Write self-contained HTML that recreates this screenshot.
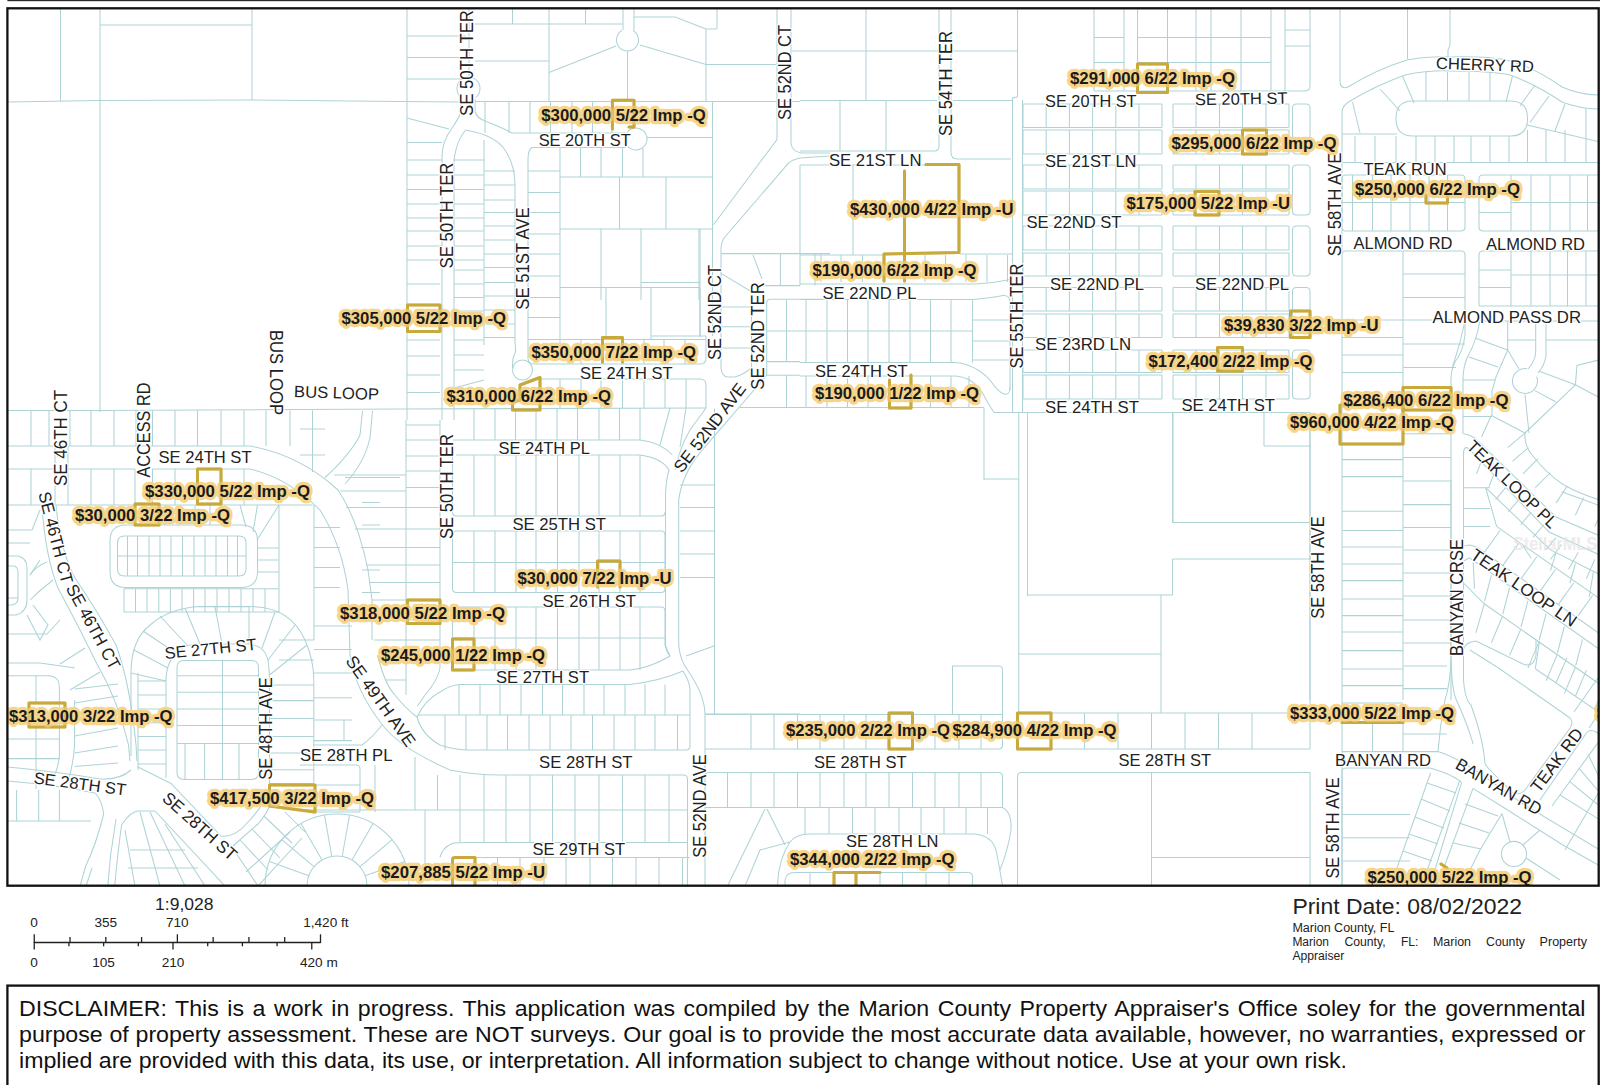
<!DOCTYPE html>
<html><head><meta charset="utf-8"><title>Map</title>
<style>
html,body{margin:0;padding:0;background:#fff;}
body{width:1600px;height:1085px;overflow:hidden;position:relative;font-family:"Liberation Sans",sans-serif;}
svg{position:absolute;left:0;top:0;}
svg{font-size:16.4px;}
svg text{font-family:"Liberation Sans",sans-serif;}
.pl{fill:none;stroke:#aed3d7;stroke-width:1.05;}
.gl{fill:none;stroke:#c8aa3c;stroke-width:3;stroke-linejoin:round;stroke-linecap:round;}
.st{fill:#222;}
.sth{fill:none;stroke:#fff;stroke-width:2.5;stroke-linejoin:round;}
.pr{font-size:16.3px;font-weight:bold;fill:#1a1a1a;}
.prh{font-size:16.3px;font-weight:bold;fill:none;stroke:#f6d48a;stroke-width:6.4;stroke-linejoin:round;stroke-linecap:round;}
.disc{position:absolute;left:18.8px;width:1515px;font-size:22.4px;line-height:27px;transform:scaleX(1.034);transform-origin:0 0;color:#111;white-space:nowrap;text-align:justify;text-align-last:justify;}
</style></head><body>
<svg width="1600" height="1085" viewBox="0 0 1600 1085">
<defs><clipPath id="mc"><rect x="8" y="9" width="1590" height="876"/></clipPath></defs>
<rect x="7.4" y="-2" width="1600" height="3.2" fill="#2a2a2a"/>
<g clip-path="url(#mc)">

<path class="pl" d="M60.5 8V101"/>
<path class="pl" d="M100 8V412"/>
<path class="pl" d="M100 25H252"/>
<path class="pl" d="M252 8V100"/>
<path class="pl" d="M8 102L100 100.5L252 100L400 101.5L461 102"/>
<path class="pl" d="M475 101.5H800"/>
<path class="pl" d="M407 8V420"/>
<path class="pl" d="M407 36H466M407 57.5H466M407 79H466"/>
<path class="pl" d="M407 118L449 129"/>
<path class="pl" d="M407 142.5H442M407 160H442M407 175H442M407 189.5H442M407 204H442M407 218H442M407 231H442M407 246H442M407 260H442"/>
<path class="pl" d="M469 8V77"/>
<path class="pl" d="M461.4 97.6A11.5 11.5 0 1 1 475.6 97.6"/>
<path class="pl" d="M475 24H623"/>
<path class="pl" d="M475 61H549"/>
<path class="pl" d="M512.5 8V24M585.5 8V24"/>
<path class="pl" d="M549 8V101.5"/>
<path class="pl" d="M623 8L623 30"/>
<path class="pl" d="M634 8L634 30"/>
<path class="pl" d="M633.0 30.5A11 11 0 1 1 622.0 30.5"/>
<path class="pl" d="M634 17L675 17L706 29L717 29"/>
<path class="pl" d="M717 8V29"/>
<path class="pl" d="M616 46L549 72.5"/>
<path class="pl" d="M640 45L706 64.5"/>
<path class="pl" d="M627.5 51V101.5"/>
<path class="pl" d="M706 29V101.5"/>
<path class="pl" d="M706 64.5H776"/>
<path class="pl" d="M461 99V112Q459 118 452 128Q442 142 442 156V420"/>
<path class="pl" d="M475 99V112Q477 118 485 121Q503 128 512 133H626"/>
<path class="pl" d="M465.5 130Q456 142 454 160V420"/>
<path class="pl" d="M465.5 130Q495 135 505 150Q515 165 515 185V345"/>
<path class="pl" d="M626 147.5H532Q528 150 528 160V345"/>
<path class="pl" d="M627.0 132.7A11 11 0 1 1 627.0 145.3"/>
<path class="pl" d="M485 101.5V133M509 101.5V133M530 101.5V133M550.5 101.5V133M572 101.5V133M592.5 101.5V133M612 101.5V133"/>
<path class="pl" d="M647 137.5H712.5"/>
<path class="pl" d="M712.5 101.5V270"/>
<path class="pl" d="M580.5 147.5V177M601 147.5V177M622.5 147.5V177M643 147.5V177"/>
<path class="pl" d="M560 177H712.5"/>
<path class="pl" d="M560 147.5V345"/>
<path class="pl" d="M619.5 177V229M666 177V229"/>
<path class="pl" d="M560 229H712.5"/>
<path class="pl" d="M601 229V300M641 229V300M699 229V300"/>
<path class="pl" d="M484 140V345"/>
<path class="pl" d="M454 160H484M454 175H484M454 189.5H484M454 204H484M454 218H484M454 231H484M454 246H484M454 260H484"/>
<path class="pl" d="M484 171H515M484 185H515M484 200H515M484 212.5H515M484 226H515M484 240H515M484 254H515M484 267.5H515"/>
<path class="pl" d="M528 171H560M528 192.5H560M528 212.5H560M528 234H560M528 254H560"/>
<path class="pl" d="M866 8V100.5"/>
<path class="pl" d="M792 51H1017.5"/>
<path class="pl" d="M800 100.5H937"/>
<path class="pl" d="M953 100.5H1012.5"/>
<path class="pl" d="M939 8V146Q939 151 934 151H800"/>
<path class="pl" d="M951 8V152Q951 159 957 159H1011"/>
<path class="pl" d="M1017.5 8V97"/>
<path class="pl" d="M1017.5 97L1012.5 98L1012.5 412"/>
<path class="pl" d="M1022.5 100V412"/>
<path class="pl" d="M840 100.5V151M886 100.5V151"/>
<path class="pl" d="M800 165H926"/>
<path class="pl" d="M853 165V255"/>
<path class="pl" d="M800 255H884"/>
<path class="pl" d="M1023.8 104H1161.2Q1162 104 1162 104.8V126.7Q1162 127.5 1161.2 127.5H1023.8Q1023 127.5 1023 126.7V104.8Q1023 104 1023.8 104Z"/>
<path class="pl" d="M1046.2 104V127.5M1069.4 104V127.5M1092.6 104V127.5M1115.8 104V127.5M1139 104V127.5"/>
<path class="pl" d="M1173.8 104H1288.2Q1289 104 1289 104.8V126.7Q1289 127.5 1288.2 127.5H1173.8Q1173 127.5 1173 126.7V104.8Q1173 104 1173.8 104Z"/>
<path class="pl" d="M1196 104V127.5M1219.5 104V127.5M1242.5 104V127.5M1266 104V127.5"/>
<path class="pl" d="M1023.8 130H1161.2Q1162 130 1162 130.8V153.2Q1162 154 1161.2 154H1023.8Q1023 154 1023 153.2V130.8Q1023 130 1023.8 130Z"/>
<path class="pl" d="M1046.2 130V154M1069.4 130V154M1092.6 130V154M1115.8 130V154M1139 130V154"/>
<path class="pl" d="M1173.8 130H1288.2Q1289 130 1289 130.8V153.2Q1289 154 1288.2 154H1173.8Q1173 154 1173 153.2V130.8Q1173 130 1173.8 130Z"/>
<path class="pl" d="M1196 130V154M1219.5 130V154M1242.5 130V154M1266 130V154"/>
<path class="pl" d="M1023.8 165H1161.2Q1162 165 1162 165.8V188.2Q1162 189 1161.2 189H1023.8Q1023 189 1023 188.2V165.8Q1023 165 1023.8 165Z"/>
<path class="pl" d="M1046.2 165V189M1069.4 165V189M1092.6 165V189M1115.8 165V189M1139 165V189"/>
<path class="pl" d="M1173.8 165H1288.2Q1289 165 1289 165.8V188.2Q1289 189 1288.2 189H1173.8Q1173 189 1173 188.2V165.8Q1173 165 1173.8 165Z"/>
<path class="pl" d="M1196 165V189M1219.5 165V189M1242.5 165V189M1266 165V189"/>
<path class="pl" d="M1023.8 191H1161.2Q1162 191 1162 191.8V214.2Q1162 215 1161.2 215H1023.8Q1023 215 1023 214.2V191.8Q1023 191 1023.8 191Z"/>
<path class="pl" d="M1046.2 191V215M1069.4 191V215M1092.6 191V215M1115.8 191V215M1139 191V215"/>
<path class="pl" d="M1173.8 191H1288.2Q1289 191 1289 191.8V214.2Q1289 215 1288.2 215H1173.8Q1173 215 1173 214.2V191.8Q1173 191 1173.8 191Z"/>
<path class="pl" d="M1196 191V215M1219.5 191V215M1242.5 191V215M1266 191V215"/>
<path class="pl" d="M1023.8 226H1161.2Q1162 226 1162 226.8V249.2Q1162 250 1161.2 250H1023.8Q1023 250 1023 249.2V226.8Q1023 226 1023.8 226Z"/>
<path class="pl" d="M1046.2 226V250M1069.4 226V250M1092.6 226V250M1115.8 226V250M1139 226V250"/>
<path class="pl" d="M1173.8 226H1288.2Q1289 226 1289 226.8V249.2Q1289 250 1288.2 250H1173.8Q1173 250 1173 249.2V226.8Q1173 226 1173.8 226Z"/>
<path class="pl" d="M1196 226V250M1219.5 226V250M1242.5 226V250M1266 226V250"/>
<path class="pl" d="M1023.8 253H1161.2Q1162 253 1162 253.8V275.2Q1162 276 1161.2 276H1023.8Q1023 276 1023 275.2V253.8Q1023 253 1023.8 253Z"/>
<path class="pl" d="M1046.2 253V276M1069.4 253V276M1092.6 253V276M1115.8 253V276M1139 253V276"/>
<path class="pl" d="M1173.8 253H1288.2Q1289 253 1289 253.8V275.2Q1289 276 1288.2 276H1173.8Q1173 276 1173 275.2V253.8Q1173 253 1173.8 253Z"/>
<path class="pl" d="M1196 253V276M1219.5 253V276M1242.5 253V276M1266 253V276"/>
<path class="pl" d="M1023.8 287.5H1161.2Q1162 287.5 1162 288.3V310.2Q1162 311 1161.2 311H1023.8Q1023 311 1023 310.2V288.3Q1023 287.5 1023.8 287.5Z"/>
<path class="pl" d="M1046.2 287.5V311M1069.4 287.5V311M1092.6 287.5V311M1115.8 287.5V311M1139 287.5V311"/>
<path class="pl" d="M1173.8 287.5H1288.2Q1289 287.5 1289 288.3V310.2Q1289 311 1288.2 311H1173.8Q1173 311 1173 310.2V288.3Q1173 287.5 1173.8 287.5Z"/>
<path class="pl" d="M1196 287.5V311M1219.5 287.5V311M1242.5 287.5V311M1266 287.5V311"/>
<path class="pl" d="M1023.8 314H1161.2Q1162 314 1162 314.8V336.7Q1162 337.5 1161.2 337.5H1023.8Q1023 337.5 1023 336.7V314.8Q1023 314 1023.8 314Z"/>
<path class="pl" d="M1046.2 314V337.5M1069.4 314V337.5M1092.6 314V337.5M1115.8 314V337.5M1139 314V337.5"/>
<path class="pl" d="M1173.8 314H1288.2Q1289 314 1289 314.8V336.7Q1289 337.5 1288.2 337.5H1173.8Q1173 337.5 1173 336.7V314.8Q1173 314 1173.8 314Z"/>
<path class="pl" d="M1196 314V337.5M1219.5 314V337.5M1242.5 314V337.5M1266 314V337.5"/>
<path class="pl" d="M1023.8 350H1161.2Q1162 350 1162 350.8V371.7Q1162 372.5 1161.2 372.5H1023.8Q1023 372.5 1023 371.7V350.8Q1023 350 1023.8 350Z"/>
<path class="pl" d="M1046.2 350V372.5M1069.4 350V372.5M1092.6 350V372.5M1115.8 350V372.5M1139 350V372.5"/>
<path class="pl" d="M1173.8 350H1288.2Q1289 350 1289 350.8V371.7Q1289 372.5 1288.2 372.5H1173.8Q1173 372.5 1173 371.7V350.8Q1173 350 1173.8 350Z"/>
<path class="pl" d="M1196 350V372.5M1219.5 350V372.5M1242.5 350V372.5M1266 350V372.5"/>
<path class="pl" d="M1023.8 375H1161.2Q1162 375 1162 375.8V398.2Q1162 399 1161.2 399H1023.8Q1023 399 1023 398.2V375.8Q1023 375 1023.8 375Z"/>
<path class="pl" d="M1046.2 375V399M1069.4 375V399M1092.6 375V399M1115.8 375V399M1139 375V399"/>
<path class="pl" d="M1173.8 375H1288.2Q1289 375 1289 375.8V398.2Q1289 399 1288.2 399H1173.8Q1173 399 1173 398.2V375.8Q1173 375 1173.8 375Z"/>
<path class="pl" d="M1196 375V399M1219.5 375V399M1242.5 375V399M1266 375V399"/>
<path class="pl" d="M1296.5 104H1306Q1310 104 1310 108V150Q1310 154 1306 154H1296.5Q1292.5 154 1292.5 150V108Q1292.5 104 1296.5 104Z"/>
<path class="pl" d="M1296.5 165H1306Q1310 165 1310 169V211Q1310 215 1306 215H1296.5Q1292.5 215 1292.5 211V169Q1292.5 165 1296.5 165Z"/>
<path class="pl" d="M1296.5 226H1306Q1310 226 1310 230V272Q1310 276 1306 276H1296.5Q1292.5 276 1292.5 272V230Q1292.5 226 1296.5 226Z"/>
<path class="pl" d="M1296.5 287.5H1306Q1310 287.5 1310 291.5V333.5Q1310 337.5 1306 337.5H1296.5Q1292.5 337.5 1292.5 333.5V291.5Q1292.5 287.5 1296.5 287.5Z"/>
<path class="pl" d="M1296.5 350H1306Q1310 350 1310 354V395Q1310 399 1306 399H1296.5Q1292.5 399 1292.5 395V354Q1292.5 350 1296.5 350Z"/>
<path class="pl" d="M1094 91H1304"/>
<path class="pl" d="M1094 8V91M1124 8V91M1137.5 8V91M1167.5 8V91M1196 8V91M1211 8V91M1241 8V91M1271 8V91"/>
<path class="pl" d="M1094 37.5H1124M1094 62.5H1124"/>
<path class="pl" d="M1137.5 37.5H1271M1137.5 62.5H1271"/>
<path class="pl" d="M1285 8V91M1310 8V86Q1310 91 1304 91"/>
<path class="pl" d="M1285 30H1310M1285 46H1310"/>
<path class="pl" d="M1340 8V80Q1340 90 1348 87Q1375 70 1407 60Q1430 56 1450 57Q1490 56 1510 61Q1535 68 1562 87Q1580 95 1600 95"/>
<path class="pl" d="M1342 420V112Q1342 106 1350 101Q1375 86 1405 75Q1430 70 1450 71Q1490 71 1510 75Q1535 84 1562 102Q1580 109 1600 109"/>
<path class="pl" d="M1407.5 8V59"/>
<path class="pl" d="M1450 8V45L1448 50V57"/>
<path class="pl" d="M1413 101H1510.5Q1527.5 101 1527.5 118V119Q1527.5 136 1510.5 136H1413Q1396 136 1396 119V118Q1396 101 1413 101Z"/>
<path class="pl" d="M1426 72V101M1447.5 72V101M1469 72V101M1490 72V101"/>
<path class="pl" d="M1402.5 76L1414 103"/>
<path class="pl" d="M1380 89L1400 111"/>
<path class="pl" d="M1512.5 76L1506 102"/>
<path class="pl" d="M1535 85L1520 106"/>
<path class="pl" d="M1549 96L1530 122.5"/>
<path class="pl" d="M1565 104L1555 131"/>
<path class="pl" d="M1586 108V162.5"/>
<path class="pl" d="M1352.5 102L1360 133"/>
<path class="pl" d="M1342 134L1397 134"/>
<path class="pl" d="M1527 125L1600 142"/>
<path class="pl" d="M1355 136V162.5M1375 136V162.5M1396 136V162.5M1416 136V162.5M1435 136V162.5M1454 136V162.5M1471 136V162.5M1490 136V162.5M1509 136V162.5"/>
<path class="pl" d="M1527.5 130V162.5M1546 130V162.5M1565 130V162.5"/>
<path class="pl" d="M1342 162.5H1600"/>
<path class="pl" d="M1346 175H1461Q1465 175 1465 179V227Q1465 231 1461 231H1346Q1342 231 1342 227V179Q1342 175 1346 175Z"/>
<path class="pl" d="M1342 202.5H1465"/>
<path class="pl" d="M1352.5 175V231M1372.5 175V231M1391 175V231M1410 175V231M1429 175V231M1447.5 175V231"/>
<path class="pl" d="M1600 175H1483Q1479 175 1479 179V227Q1479 231 1483 231H1600"/>
<path class="pl" d="M1511 202.5H1600"/>
<path class="pl" d="M1479 212.5H1511"/>
<path class="pl" d="M1511 175V231M1531 175V231M1550 175V231M1570 175V231M1587.5 175V231"/>
<path class="pl" d="M960 254H1012.5"/>
<path class="pl" d="M821 255V282M841 255V282M862.5 255V282M925 255V282M945.5 255V282M966 255V282M987 255V282M1007.5 255V282"/>
<path class="pl" d="M800 284H975Q995 283 1012.5 279"/>
<path class="pl" d="M800 299.5H972.5Q990 298 1003 295.5Q1010 295 1010 302V390"/>
<path class="pl" d="M800 331H972.5"/>
<path class="pl" d="M806 299.5V362.5M827 299.5V362.5M847.5 299.5V362.5M868 299.5V362.5M889 299.5V362.5M910 299.5V362.5M930.5 299.5V362.5M951 299.5V362.5M972.5 299.5V362.5"/>
<path class="pl" d="M972.5 320H1010M972.5 341H1010M972.5 360H1010"/>
<path class="pl" d="M800 362.5H955Q975 364 990 380Q998 392 1004 394Q1010 395 1010 388"/>
<path class="pl" d="M800 376H955Q972 377 982 392Q988 404 994 412.5H1310"/>
<path class="pl" d="M806 376V407.5M827 376V407.5M847.5 376V407.5M868 376V407.5M930.5 376V407.5M951 376V407.5M969 376V407.5"/>
<path class="pl" d="M800 407.5H984"/>
<path class="pl" d="M984 407.5V480"/>
<path class="pl" d="M984 479H1018.75"/>
<path class="pl" d="M1173 412.5V522.5"/>
<path class="pl" d="M1310 412.5V700"/>
<path class="pl" d="M1342 420V886"/>
<path class="pl" d="M1264 412.5V446"/>
<path class="pl" d="M1264 446H1310"/>
<path class="pl" d="M1342 255Q1342 251 1346 251H1461Q1465 251 1465 255V335Q1463 352 1455 362Q1451 370 1451 380V700"/>
<path class="pl" d="M1403 251V700"/>
<path class="pl" d="M1342 320H1403M1342 337.5H1403M1342 355H1403M1342 372.5H1403M1342 459.6H1403M1342 476.6H1403"/>
<path class="pl" d="M1403 274H1465M1403 297.5H1465M1403 320H1465M1403 344H1465"/>
<path class="pl" d="M1403 367.5H1456"/>
<path class="pl" d="M1403 433.8H1451M1403 457.4H1451M1403 481H1451M1403 504.6H1451"/>
<path class="pl" d="M1600 251H1483Q1479 251 1479 255V306"/>
<path class="pl" d="M1479 270H1511M1479 287.5H1511"/>
<path class="pl" d="M1511 251V306M1531 251V306M1550 251V306M1567.5 251V306M1586 251V306"/>
<path class="pl" d="M1511 275H1600"/>
<path class="pl" d="M1479 306H1600"/>
<path class="pl" d="M1465 321Q1460 345 1452.5 367"/>
<path class="pl" d="M1479.6 321H1600"/>
<path class="pl" d="M1479.6 322Q1477 340 1467 358Q1463 368 1463 380V434"/>
<path class="pl" d="M1507.7 321V350"/>
<path class="pl" d="M1507.7 340H1535.7"/>
<path class="pl" d="M1546 340H1600"/>
<path class="pl" d="M1535.7 321V352Q1535 362 1528 369"/>
<path class="pl" d="M1546 321V355Q1545 365 1538 373"/>
<path class="pl" d="M1536.7 376.7A12.5 12.5 0 1 1 1527.2 368.7"/>
<path class="pl" d="M1475 338L1507.7 350"/>
<path class="pl" d="M1469 357L1498 367"/>
<path class="pl" d="M1507.7 350L1496 377L1492 391L1492 414L1481.6 437"/>
<path class="pl" d="M1463 380H1495"/>
<path class="pl" d="M1463 416.5H1492"/>
<path class="pl" d="M1507.7 350L1519 369"/>
<path class="pl" d="M1525 394.5L1529 433"/>
<path class="pl" d="M1492 415.7L1525 433"/>
<path class="pl" d="M1538.7 371L1575.4 384.8L1577 365.4L1600 359.6"/>
<path class="pl" d="M1575.4 384.8L1525 433"/>
<path class="pl" d="M1575.4 384.8L1600 398"/>
<path class="pl" d="M1534.8 390.6L1556 402"/>
<path class="pl" d="M1525 433Q1524 445 1532 455Q1548 475 1564 485Q1580 494 1600 500"/>
<path class="pl" d="M407 284H440M407 304.5H440M407 332H440M407 340H440M407 356H440M407 375H440M407 392.5H440"/>
<path class="pl" d="M406 425H440M406 440H440M406 456H440M406 471H440M406 487.5H440M406 507.5H440M406 529H440M406 547.5H440M406 565H440M406 582.5H440M406 600H440M406 620H440M406 640H440M406 660H440"/>
<path class="pl" d="M406 420V695"/>
<path class="pl" d="M334 475H406"/>
<path class="pl" d="M340 491H406"/>
<path class="pl" d="M346 507.5H406"/>
<path class="pl" d="M355 529H406"/>
<path class="pl" d="M361 547.5H406"/>
<path class="pl" d="M366 565H406"/>
<path class="pl" d="M369 582.5H406"/>
<path class="pl" d="M372 600H406"/>
<path class="pl" d="M372 620H406"/>
<path class="pl" d="M374 640H406"/>
<path class="pl" d="M378 660H406"/>
<path class="pl" d="M386 680H406"/>
<path class="pl" d="M454 270H484M454 284H484M454 297.5H484M454 311H484M454 325H484M454 340H484M454 355H484M454 370H484"/>
<path class="pl" d="M454 388L484 380"/>
<path class="pl" d="M484 282.5H515M484 296H515M484 310H515M484 324H515M484 337.5H515"/>
<path class="pl" d="M515.5 345V352Q512 358 512.5 368"/>
<path class="pl" d="M512.5 370a10 10 0 1 0 20 0a10 10 0 1 0 -20 0"/>
<path class="pl" d="M528 345V358Q528 364 534 364H700Q706 364 706 358V336"/>
<path class="pl" d="M528 339.5H706"/>
<path class="pl" d="M581 339.5V364M602.5 339.5V364M622.5 339.5V364M644 339.5V364M664 339.5V364M685 339.5V364"/>
<path class="pl" d="M532 379H700Q706 379 706 385V408"/>
<path class="pl" d="M540 379V408M560 379V408M581 379V408M601 379V408M622.5 379V408M644 379V408M665 379V408M686 379V408"/>
<path class="pl" d="M528 276H560M528 297.5H560M528 317.5H560"/>
<path class="pl" d="M560 287.5H700"/>
<path class="pl" d="M641 282.5H700"/>
<path class="pl" d="M700 229V336"/>
<path class="pl" d="M606 287.5V339.5M651 287.5V339.5"/>
<path class="pl" d="M651 336H706"/>
<path class="pl" d="M8 410.5L100 410.5L400 409L706 408"/>
<path class="pl" d="M474 408V440M495 408V440M515.5 408V440M536 408V440M557 408V440M577.5 408V440M599 408V440M619.5 408V440M640 408V440"/>
<path class="pl" d="M670 408L660 445"/>
<path class="pl" d="M686 408L680 447"/>
<path class="pl" d="M453 440H640Q660 442 672.5 455"/>
<path class="pl" d="M456 455H640Q662 458 669 470Q666 480 665.5 495V645Q666 652 670 656"/>
<path class="pl" d="M474 455V516M495 455V516M516 455V516M536 455V516M557.5 455V516M579 455V516M599 455V516M620 455V516M640 455V516"/>
<path class="pl" d="M712.5 177V336"/>
<path class="pl" d="M777 8V139.5L713.5 224.7"/>
<path class="pl" d="M830 156L800 158Q790 160 786.5 165.4L724 238Q721 243 721 250V368Q722 377 728 377H735Q745 374 751.5 367.7V291.7"/>
<path class="pl" d="M791 8V143Q792 152 801.7 153H830"/>
<path class="pl" d="M721 253.6H830"/>
<path class="pl" d="M800 165V253.6"/>
<path class="pl" d="M753 255L762 279"/>
<path class="pl" d="M780.4 253.6V285.6M800 253.6V285.6M815 253.6V285.6"/>
<path class="pl" d="M754.5 285.6H800"/>
<path class="pl" d="M830 299.3H770.7Q766.7 299.3 766.7 303V375.3"/>
<path class="pl" d="M766.7 331H800"/>
<path class="pl" d="M766.7 361.6H800"/>
<path class="pl" d="M786.5 299.3V361.6"/>
<path class="pl" d="M706 408L690 430Q680 447 675 470"/>
<path class="pl" d="M800 375.3H766.7L700 452.6Q682 475 678.7 500V645Q680 660 687.5 670Q705 695 705 715V886"/>
<path class="pl" d="M786.5 375.3V407.5"/>
<path class="pl" d="M740 407.5H800"/>
<path class="pl" d="M721 273.4L751.5 291.7"/>
<path class="pl" d="M721 307H751.5M721 326.7H751.5M721 348H751.5"/>
<path class="pl" d="M700 287.5V337"/>
<path class="pl" d="M680 485H714M680 507.5H714M680 531H714M680 554H714M680 577.5H714"/>
<path class="pl" d="M714.5 408.7V714"/>
<path class="pl" d="M686 656L714 646"/>
<path class="pl" d="M705 714H800"/>
<path class="pl" d="M31 410.5V446M49 410.5V446M70 410.5V446M91 410.5V446M114 410.5V446M136 410.5V446M152.5 410.5V446M175 410.5V446M197.5 410.5V446M221 410.5V446M244 410.5V446M266 410.5V446M290 410.5V446M312.5 410.5V446"/>
<path class="pl" d="M8 446H250"/>
<path class="pl" d="M250 446Q300 455 338 490Q358 520 368 570L372 600V640"/>
<path class="pl" d="M8 469H55"/>
<path class="pl" d="M68 469H135"/>
<path class="pl" d="M152.5 469H250"/>
<path class="pl" d="M250 469Q288 478 320 510Q342 545 348 590L350 655"/>
<path class="pl" d="M325 477.5Q350 455 360 435L362.5 411"/>
<path class="pl" d="M345 484Q365 462 370 437.5L372.5 411"/>
<path class="pl" d="M31 469V505M91 469V505M114 469V505M135 469V505M152.5 469V505M175 469V505M197.5 469V505M221 469V505M244 469V505"/>
<path class="pl" d="M55 446V505M68 446V505"/>
<path class="pl" d="M8 505H312.5"/>
<path class="pl" d="M126 525H241.5Q257.5 525 257.5 541V571.5Q257.5 587.5 241.5 587.5H126Q110 587.5 110 571.5V541Q110 525 126 525Z"/>
<path class="pl" d="M124.5 536H239Q246 536 246 543V569Q246 576 239 576H124.5Q117.5 576 117.5 569V543Q117.5 536 124.5 536Z"/>
<path class="pl" d="M117.5 556H246"/>
<path class="pl" d="M127.5 536V576M137.5 536V576M149 536V576M160 536V576M171 536V576M182.5 536V576M194 536V576M205 536V576M216 536V576M227.5 536V576M237.5 536V576"/>
<path class="pl" d="M165 505V525M180 505V525M195 505V525M210 505V525M225 505V525"/>
<path class="pl" d="M159 505L150 525"/>
<path class="pl" d="M240 505L246 527"/>
<path class="pl" d="M257.5 505L253 532"/>
<path class="pl" d="M279 505L257 540"/>
<path class="pl" d="M279 505V612"/>
<path class="pl" d="M314 505V640"/>
<path class="pl" d="M257.5 548H279M257.5 560H279M257.5 572H279"/>
<path class="pl" d="M314 527.5H340M314 547.5H340M314 567.5H340M314 587.5H340"/>
<path class="pl" d="M300 429H325M300 455H325"/>
<path class="pl" d="M345 477.5L400 477.5"/>
<path class="pl" d="M362 502.5H380M362 525H380M362 547.5H380M362 570H380M362 592.5H380"/>
<path class="pl" d="M312.5 410.5V472"/>
<path class="pl" d="M124 588.7H279"/>
<path class="pl" d="M124 612H279"/>
<path class="pl" d="M124 588.7V612M135.5 588.7V612M147 588.7V612M158.8 588.7V612M170.4 588.7V612M182 588.7V612M193.6 588.7V612M205 588.7V612M217 588.7V612M229 588.7V612M241 588.7V612M253 588.7V612M265 588.7V612"/>
<path class="pl" d="M452.5 455V512Q452.5 516 456.5 516H661Q665 516 665 512"/>
<path class="pl" d="M456.5 531H661Q665 531 665 535V588.5Q665 592.5 661 592.5H456.5Q452.5 592.5 452.5 588.5V535Q452.5 531 456.5 531Z"/>
<path class="pl" d="M452.5 562.5H665"/>
<path class="pl" d="M474 531V592.5M495 531V592.5M516 531V592.5M536 531V592.5M557.5 531V592.5M579 531V592.5M599 531V592.5M620 531V592.5M640 531V592.5"/>
<path class="pl" d="M452.5 611Q452.5 607 456.5 607H661Q665 607 665 611V645Q668 652 670 656Q650 668 630 670H452.5Z"/>
<path class="pl" d="M452.5 638H665"/>
<path class="pl" d="M474 607V670M495 607V670M516 607V670M536 607V670M557.5 607V670M579 607V670M599 607V670M620 607V670M640 607V670"/>
<path class="pl" d="M440 420V668"/>
<path class="pl" d="M440 668Q438 680 425 695L417.5 706"/>
<path class="pl" d="M417 717Q425 700 440 692Q450 685 460 684.5H630Q660 681 683 671"/>
<path class="pl" d="M690 746V690Q690 682 683 671"/>
<path class="pl" d="M417 717Q422 735 440 745Q455 750 470 750H686Q690 750 690 746"/>
<path class="pl" d="M418 715H690"/>
<path class="pl" d="M459 684.5V715M480 684.5V715M500 684.5V715M521 684.5V715M542.5 684.5V715M562.5 684.5V715M584 684.5V715M604 684.5V715M625 684.5V715M645 684.5V715M665 684.5V715"/>
<path class="pl" d="M445 715V750M466 715V750M487 715V750M507.5 715V750M529 715V750M550 715V750M571 715V750M592.5 715V750M614 715V750M635 715V750M655 715V750M677.5 715V750"/>
<path class="pl" d="M350 655Q355 690 382.5 725Q400 748 450 770Q475 775 500 775H683.5Q687.5 775 687.5 779V886"/>
<path class="pl" d="M377.5 655Q385 685 395 695Q405 708 417 717"/>
<path class="pl" d="M437.5 775V810M460 775V810M484 775V810M506 775V810M530 775V810M552.5 775V810M575 775V810M599 775V810M622.5 775V810M645 775V810M669 775V810"/>
<path class="pl" d="M415 757V810"/>
<path class="pl" d="M300 810H687.5"/>
<path class="pl" d="M440 857.5Q442 848 452 843.5Q456 842.5 470 842.5H687.5"/>
<path class="pl" d="M460 810V842.5M484 810V842.5M506 810V842.5M530 810V842.5M552.5 810V842.5M575 810V842.5M599 810V842.5M622.5 810V842.5M645 810V842.5M669 810V842.5"/>
<path class="pl" d="M452.5 857.5H690"/>
<path class="pl" d="M452.5 857.5V886M475 857.5V886M497.5 857.5V886M520 857.5V886M544 857.5V886M566 857.5V886M590 857.5V886M612.5 857.5V886M636 857.5V886M659 857.5V886M682.5 857.5V886"/>
<path class="pl" d="M382 725Q372 738 362 745H313.8"/>
<path class="pl" d="M300 765H356Q360 765 360 769V812"/>
<path class="pl" d="M375 765V812"/>
<path class="pl" d="M269.5 785H360"/>
<path class="pl" d="M307 886A30 30 0 0 1 367 886"/>
<path class="pl" d="M265 886A72 72 0 0 1 409 886"/>
<path class="pl" d="M308.8 875.7L269.3 861.4"/>
<path class="pl" d="M314.0 866.7L281.8 839.7"/>
<path class="pl" d="M322.0 860.0L301.0 823.6"/>
<path class="pl" d="M331.8 856.5L324.5 815.1"/>
<path class="pl" d="M342.2 856.5L349.5 815.1"/>
<path class="pl" d="M352.0 860.0L373.0 823.6"/>
<path class="pl" d="M360.0 866.7L392.2 839.7"/>
<path class="pl" d="M365.2 875.7L404.7 861.4"/>
<path class="pl" d="M425 810V870"/>
<path class="pl" d="M705 714.5H1002.5"/>
<path class="pl" d="M705 749H998.5Q1002.5 749 1002.5 745V670Q1002.5 666 998.5 666H952.5V714.5"/>
<path class="pl" d="M751 714.5V749M774 714.5V749M797.5 714.5V749M820 714.5V749M844 714.5V749M866 714.5V749M935 714.5V749M959 714.5V749M981 714.5V749"/>
<path class="pl" d="M705 776.5Q705 772.5 709 772.5H998.5Q1002.5 772.5 1002.5 776.5V807.5"/>
<path class="pl" d="M727.5 772.5V807.5M751 772.5V807.5M774 772.5V807.5M797.5 772.5V807.5M820 772.5V807.5M844 772.5V807.5M866 772.5V807.5M889 772.5V807.5M912.5 772.5V807.5M935 772.5V807.5M959 772.5V807.5M981 772.5V807.5"/>
<path class="pl" d="M705 807.5H1002.5"/>
<path class="pl" d="M805 807.5V834M829 807.5V834M852.5 807.5V834M875 807.5V834M899 807.5V834M921 807.5V834M944 807.5V834M966 807.5V834M987.5 807.5V834"/>
<path class="pl" d="M777.5 886Q778 860 790 842Q796 834 810 834H975Q992 836 996 850Q1000 870 1002.5 886"/>
<path class="pl" d="M1002.5 807.5Q1012 812 1011 830Q1008 850 1000 870"/>
<path class="pl" d="M785 886V880Q786 872.5 795 872.5H968Q972.5 872.5 972.5 877V886"/>
<path class="pl" d="M810 872.5V886M880 872.5V886M902.5 872.5V886M926 872.5V886M949 872.5V886"/>
<path class="pl" d="M765 809L727.5 886"/>
<path class="pl" d="M767 809L785 845"/>
<path class="pl" d="M745 886L760 850L790 842"/>
<path class="pl" d="M1017.5 886V776.5Q1017.5 772.5 1021.5 772.5H1310V886"/>
<path class="pl" d="M1151.5 772.5V886"/>
<path class="pl" d="M1151.5 857.5H1310"/>
<path class="pl" d="M1018.75 412.5V713"/>
<path class="pl" d="M1027.5 412.5V596"/>
<path class="pl" d="M1018.75 654H1161"/>
<path class="pl" d="M1028 595H1172.5"/>
<path class="pl" d="M1172.5 412.5V522.5"/>
<path class="pl" d="M1172.5 522.5H1310"/>
<path class="pl" d="M1172.5 559H1310"/>
<path class="pl" d="M1172.5 559V595"/>
<path class="pl" d="M1161 595V713"/>
<path class="pl" d="M1017.5 713H1310"/>
<path class="pl" d="M1017.5 749H1310"/>
<path class="pl" d="M1051 713V749M1084.5 713V749M1118 713V749M1151.5 713V749M1185 713V749M1218.5 713V749M1252 713V749"/>
<path class="pl" d="M1310 412.5V749"/>
<path class="pl" d="M1342 511.3H1403M1342 530.4H1403M1342 547H1403M1342 564H1403M1342 580.6H1403M1342 599H1403M1342 615.6H1403M1342 632H1403M1342 650.6H1403M1342 669H1403M1342 685.6H1403M1342 703H1403M1342 722.5H1403"/>
<path class="pl" d="M1403 527.5H1451M1403 550H1451M1403 573H1451M1403 596H1451M1403 620H1451M1403 643H1451"/>
<path class="pl" d="M1403 666H1447M1403 688.6H1447M1403 711H1447M1403 734H1447"/>
<path class="pl" d="M1451 480V660Q1450 685 1445 700Q1440 725 1438 751"/>
<path class="pl" d="M1372.5 722.5V751M1403 722.5V751"/>
<path class="pl" d="M1342 751.6H1438Q1456 757 1485 777L1523 804L1600 850"/>
<path class="pl" d="M1342 886V772Q1342 768 1346 768H1430Q1454 775 1461.6 782.6"/>
<path class="pl" d="M1473 788.4L1504 807.7L1562 844.5L1600 866"/>
<path class="pl" d="M1463.5 454V546"/>
<path class="pl" d="M1463.5 561V680Q1465 700 1471 705Q1483 738 1484.8 761"/>
<path class="pl" d="M1451 660Q1452 690 1456 699Q1469 728 1473 744"/>
<path class="pl" d="M1342 814.5H1410M1342 837.7H1410M1342 861H1410"/>
<path class="pl" d="M1430.6 773L1397.7 866L1390 886"/>
<path class="pl" d="M1459.7 780.6L1428.7 866L1421 886"/>
<path class="pl" d="M1427 783L1456 793"/>
<path class="pl" d="M1421 799L1450 811"/>
<path class="pl" d="M1415 817L1444 828"/>
<path class="pl" d="M1409 834L1438 844"/>
<path class="pl" d="M1403 851L1432 861"/>
<path class="pl" d="M1461.6 782.6L1444 840L1430 886"/>
<path class="pl" d="M1473 788.4L1446 862L1437 886"/>
<path class="pl" d="M1465 804L1498 816"/>
<path class="pl" d="M1459 823L1489 833"/>
<path class="pl" d="M1453 843L1481 849"/>
<path class="pl" d="M1501.4 854a12.6 12.6 0 1 0 25.2 0a12.6 12.6 0 1 0 -25.2 0"/>
<path class="pl" d="M1502 813.5L1510 842"/>
<path class="pl" d="M1502 813.5L1480 850L1462 886"/>
<path class="pl" d="M1523 845L1540 830"/>
<path class="pl" d="M1526 858L1560 880"/>
<path class="pl" d="M1463.5 434Q1468 434 1474.8 438L1556 517L1600 536"/>
<path class="pl" d="M1463.5 454Q1463.5 446 1468 448L1549 532L1600 555"/>
<path class="pl" d="M1525.7 432.4L1507.7 447.6"/>
<path class="pl" d="M1528.4 447.6L1512.4 461.4"/>
<path class="pl" d="M1538.1 458.7L1522.9 473.9"/>
<path class="pl" d="M1550.5 472.5L1535.3 487.7"/>
<path class="pl" d="M1567.1 486.3L1556.1 502.9"/>
<path class="pl" d="M1561.6 491.8L1600.0 505.7"/>
<path class="pl" d="M1583.7 497.4L1575.4 515.3"/>
<path class="pl" d="M1600.0 515.3L1594.7 526.4"/>
<path class="pl" d="M1463.5 487.7H1490M1463.5 508.4H1490M1463.5 526.4H1490"/>
<path class="pl" d="M1485.6 487.7L1496.6 526.4"/>
<path class="pl" d="M1463.5 546L1470 545L1476.9 547.3L1579.1 619.2L1600 634"/>
<path class="pl" d="M1463.5 561L1469.5 557.9L1571.7 629.8L1600 649.7"/>
<path class="pl" d="M1496.6 526.4L1600.0 599.1"/>
<path class="pl" d="M1484.2 552.6L1500.0 530.5"/>
<path class="pl" d="M1502.7 565.6L1518.5 543.5"/>
<path class="pl" d="M1521.2 578.6L1537.0 556.5"/>
<path class="pl" d="M1539.8 591.6L1555.5 569.5"/>
<path class="pl" d="M1558.3 604.6L1574.0 582.5"/>
<path class="pl" d="M1576.8 617.6L1592.5 595.5"/>
<path class="pl" d="M1485.6 487.7L1550.5 549.9L1600.0 574.7"/>
<path class="pl" d="M1481.4 461.4L1476.5 473.9"/>
<path class="pl" d="M1493.9 474.2L1488.9 486.6"/>
<path class="pl" d="M1506.3 486.9L1495.8 499.3"/>
<path class="pl" d="M1518.8 499.6L1508.3 512.0"/>
<path class="pl" d="M1531.2 512.3L1520.7 524.7"/>
<path class="pl" d="M1543.6 525.0L1533.1 537.4"/>
<path class="pl" d="M1556.1 537.7L1545.6 550.1"/>
<path class="pl" d="M1561.6 544.3L1550.5 559.5"/>
<path class="pl" d="M1578.2 552.6L1568.5 569.2"/>
<path class="pl" d="M1594.7 559.5L1586.4 578.9"/>
<path class="pl" d="M1531.2 558.2L1522.9 545.7"/>
<path class="pl" d="M1550.5 570.6L1556.1 552.6"/>
<path class="pl" d="M1569.9 583.0L1575.4 563.7"/>
<path class="pl" d="M1589.2 596.8L1593.4 572.0"/>
<path class="pl" d="M1463.5 583.0L1484.2 603.8L1600.0 684.4"/>
<path class="pl" d="M1473.2 562.3L1474.5 588.6"/>
<path class="pl" d="M1491.4 575.2L1484.5 601.4"/>
<path class="pl" d="M1509.6 588.0L1502.7 614.3"/>
<path class="pl" d="M1527.9 600.9L1521.0 627.1"/>
<path class="pl" d="M1546.1 613.7L1539.2 640.0"/>
<path class="pl" d="M1564.3 626.5L1557.4 652.8"/>
<path class="pl" d="M1582.6 639.4L1575.7 665.6"/>
<path class="pl" d="M1484.2 603.8L1475.9 632.8"/>
<path class="pl" d="M1502.4 616.5L1491.4 642.7"/>
<path class="pl" d="M1520.7 629.2L1509.6 655.4"/>
<path class="pl" d="M1538.9 641.9L1527.9 668.1"/>
<path class="pl" d="M1557.2 654.6L1546.1 680.8"/>
<path class="pl" d="M1575.4 667.3L1564.3 693.6"/>
<path class="pl" d="M1463.5 650Q1465 642 1476 641L1523 664Q1534 668 1536 655L1536 640"/>
<path class="pl" d="M1535.3 668.7L1600.0 712.9"/>
<path class="pl" d="M1535.3 668.7L1539.5 641.1"/>
<path class="pl" d="M1556.1 682.5L1567.1 657.6"/>
<path class="pl" d="M1575.4 696.3L1586.4 670.1"/>
<path class="pl" d="M1594.7 708.8L1600.0 696.3"/>
<path class="pl" d="M1470 650Q1500 668 1530 690L1570 718Q1574 722 1570 728L1525 790Q1520 796 1512 792L1490 770Q1484 764 1484.8 761"/>
<path class="pl" d="M1574 712L1600 675"/>
<path class="pl" d="M1589 728L1600 712"/>
<path class="pl" d="M1540 800L1585 735Q1589 728 1596 732L1600 735"/>
<path class="pl" d="M1552 806L1600 740"/>
<path class="pl" d="M1560.0 795.0L1600 820.0"/>
<path class="pl" d="M1569.35 781.4L1600 806.4"/>
<path class="pl" d="M1578.7 767.8L1600 792.8"/>
<path class="pl" d="M1588.05 754.2L1600 779.2"/>
<path class="pl" d="M1600 790L1565 850"/>
<path class="pl" d="M42 505Q45 555 58 588Q78 625 97 664Q118 700 128.5 745L130 761"/>
<path class="pl" d="M56 505Q60 550 75 578Q98 612 116 645Q130 683 136 745L137 761"/>
<path class="pl" d="M8 556H18Q27 558 27 568V600Q27 612 16 615H8"/>
<path class="pl" d="M8 566H14Q18 567 18 572V598Q18 604 12 605H8"/>
<path class="pl" d="M47 562Q36 566 30 575"/>
<path class="pl" d="M53 580Q40 590 30 600"/>
<path class="pl" d="M8 530L32 530L40 510"/>
<path class="pl" d="M8 543L30 543"/>
<path class="pl" d="M30 575L40 560"/>
<path class="pl" d="M27 615L40 640L48 625L33 605"/>
<path class="pl" d="M8 634H47"/>
<path class="pl" d="M8 663L40 663L75 668"/>
<path class="pl" d="M8 598H18"/>
<path class="pl" d="M47 634L60 620"/>
<path class="pl" d="M60 664L85 648"/>
<path class="pl" d="M70 690L100 672"/>
<path class="pl" d="M8 675.7H50Q59.4 677 59.4 687V756Q58 770 52 780"/>
<path class="pl" d="M74.6 700V745Q73 765 69 778"/>
<path class="pl" d="M36 675.7V703"/>
<path class="pl" d="M36 727V789"/>
<path class="pl" d="M8 739H59.4M8 758.6H59.4"/>
<path class="pl" d="M74.6 689L118 684"/>
<path class="pl" d="M74.6 703L118 696"/>
<path class="pl" d="M74.6 719.6L118 711"/>
<path class="pl" d="M74.6 736L118 728"/>
<path class="pl" d="M74.6 753L118 746"/>
<path class="pl" d="M74.6 766.6L118 763"/>
<path class="pl" d="M8 767Q60 772 100 779Q120 780 131 770"/>
<path class="pl" d="M8 781Q55 785 95 793Q102 800 103.7 814Q96 845 85.7 866L80 886"/>
<path class="pl" d="M116 819Q113 840 110.6 855L107.8 886"/>
<path class="pl" d="M121.6 825Q118 850 114.7 886"/>
<path class="pl" d="M92 868L86 886"/>
<path class="pl" d="M16.6 790V821M38.7 790V821M59.4 790V821"/>
<path class="pl" d="M8 821L91 821"/>
<path class="pl" d="M131 756V673Q131 640 150 625Q170 608 200 606.6H249Q290 606 305 640Q313.8 660 313.8 680V783.5"/>
<path class="pl" d="M166 778V681Q166 660 180 650Q186 644 200 644H249Q265 646 268 660Q269.5 670 269.5 680V783.5"/>
<path class="pl" d="M184 660.5H251.5Q258.5 660.5 258.5 667.5V772.4Q258.5 779.4 251.5 779.4H184Q177 779.4 177 772.4V667.5Q177 660.5 184 660.5Z"/>
<path class="pl" d="M177 675.7H258.5M177 692.3H258.5M177 708.9H258.5M177 725.5H258.5M177 743.4H258.5"/>
<path class="pl" d="M222.5 660.5V743.4"/>
<path class="pl" d="M185 743.4V779.4M204.6 743.4V779.4M222.5 743.4V779.4M239 743.4V779.4"/>
<path class="pl" d="M138 673V770"/>
<path class="pl" d="M138 681H166M138 695H166M138 709H166M138 722.7H166M138 736.5H166M138 750H166M138 764H166"/>
<path class="pl" d="M269.5 685H313.8M269.5 700.6H313.8M269.5 718.5H313.8M269.5 736.5H313.8M269.5 753H313.8M269.5 769.7H313.8M269.5 783.5H313.8"/>
<path class="pl" d="M131 673L166 681"/>
<path class="pl" d="M134 650L168 668"/>
<path class="pl" d="M143 631L176 653"/>
<path class="pl" d="M160 616L188 646"/>
<path class="pl" d="M185 608L200 644"/>
<path class="pl" d="M215 606.6L222 644"/>
<path class="pl" d="M249 606.6L249 644"/>
<path class="pl" d="M275 612L262 648"/>
<path class="pl" d="M295 625L268 660"/>
<path class="pl" d="M307 645L269.5 675"/>
<path class="pl" d="M313.8 626H352M313.8 649.4H352M313.8 673H352M313.8 697.8H352M313.8 720H352M313.8 740.6H352"/>
<path class="pl" d="M344 720V740.6"/>
<path class="pl" d="M279 640H314M279 660H314"/>
<path class="pl" d="M138 767L171 783.5L221 836Q235 838 248 822Q262 808 269.5 789"/>
<path class="pl" d="M121.6 825Q130 812 138 811H155L225 886"/>
<path class="pl" d="M232 847Q245 835 258 824Q266 815 269.5 806"/>
<path class="pl" d="M315 812H360"/>
<path class="pl" d="M240 840L268 870"/>
<path class="pl" d="M252 829L280 858"/>
<path class="pl" d="M264 816L292 843"/>
<path class="pl" d="M285 812L305 832"/>
<path class="pl" d="M232 847L258 886"/>
<path class="pl" d="M246 872L290 832"/>
<path class="pl" d="M258 886L302 838"/>
<path class="pl" d="M140 812L160 886"/>
<path class="pl" d="M150 812L185 886"/>
<path class="pl" d="M165 824L205 886"/>
<path class="pl" d="M125 830L135 886"/>
<path class="pl" d="M130 850L185 850"/>
<path class="pl" d="M128 868L198 868"/>
<g transform="translate(466.5 63) rotate(-90)" font-size="18.0"><text class="sth" x="0" y="6.5" text-anchor="middle" textLength="106" lengthAdjust="spacingAndGlyphs">SE 50TH TER</text><text class="st" x="0" y="6.5" text-anchor="middle" textLength="106" lengthAdjust="spacingAndGlyphs">SE 50TH TER</text></g>
<g transform="translate(784 72.5) rotate(-90)" font-size="18.0"><text class="sth" x="0" y="6.5" text-anchor="middle" textLength="95" lengthAdjust="spacingAndGlyphs">SE 52ND CT</text><text class="st" x="0" y="6.5" text-anchor="middle" textLength="95" lengthAdjust="spacingAndGlyphs">SE 52ND CT</text></g>
<g transform="translate(584.7 139.8)" font-size="16.4"><text class="sth" x="0" y="5.9" text-anchor="middle" textLength="92.1" lengthAdjust="spacingAndGlyphs">SE 20TH ST</text><text class="st" x="0" y="5.9" text-anchor="middle" textLength="92.1" lengthAdjust="spacingAndGlyphs">SE 20TH ST</text></g>
<g transform="translate(446.5 215.5) rotate(-90)" font-size="18.0"><text class="sth" x="0" y="6.5" text-anchor="middle" textLength="106" lengthAdjust="spacingAndGlyphs">SE 50TH TER</text><text class="st" x="0" y="6.5" text-anchor="middle" textLength="106" lengthAdjust="spacingAndGlyphs">SE 50TH TER</text></g>
<g transform="translate(522.5 258.5) rotate(-90)" font-size="18.0"><text class="sth" x="0" y="6.5" text-anchor="middle" textLength="102.5" lengthAdjust="spacingAndGlyphs">SE 51ST AVE</text><text class="st" x="0" y="6.5" text-anchor="middle" textLength="102.5" lengthAdjust="spacingAndGlyphs">SE 51ST AVE</text></g>
<g transform="translate(626.2 373.1)" font-size="16.4"><text class="sth" x="0" y="5.9" text-anchor="middle" textLength="92.5" lengthAdjust="spacingAndGlyphs">SE 24TH ST</text><text class="st" x="0" y="5.9" text-anchor="middle" textLength="92.5" lengthAdjust="spacingAndGlyphs">SE 24TH ST</text></g>
<g transform="translate(714 312.5) rotate(-90)" font-size="18.0"><text class="sth" x="0" y="6.5" text-anchor="middle" textLength="95" lengthAdjust="spacingAndGlyphs">SE 52ND CT</text><text class="st" x="0" y="6.5" text-anchor="middle" textLength="95" lengthAdjust="spacingAndGlyphs">SE 52ND CT</text></g>
<g transform="translate(757.5 336) rotate(-90)" font-size="18.0"><text class="sth" x="0" y="6.5" text-anchor="middle" textLength="107.5" lengthAdjust="spacingAndGlyphs">SE 52ND TER</text><text class="st" x="0" y="6.5" text-anchor="middle" textLength="107.5" lengthAdjust="spacingAndGlyphs">SE 52ND TER</text></g>
<g transform="translate(276.5 372.5) rotate(90)" font-size="18.0"><text class="sth" x="0" y="6.5" text-anchor="middle" textLength="85" lengthAdjust="spacingAndGlyphs">BUS LOOP</text><text class="st" x="0" y="6.5" text-anchor="middle" textLength="85" lengthAdjust="spacingAndGlyphs">BUS LOOP</text></g>
<g transform="translate(336.5 392.6) rotate(2)" font-size="16.4"><text class="sth" x="0" y="5.9" text-anchor="middle" textLength="85" lengthAdjust="spacingAndGlyphs">BUS LOOP</text><text class="st" x="0" y="5.9" text-anchor="middle" textLength="85" lengthAdjust="spacingAndGlyphs">BUS LOOP</text></g>
<g transform="translate(60 438) rotate(-90)" font-size="18.0"><text class="sth" x="0" y="6.5" text-anchor="middle" textLength="96" lengthAdjust="spacingAndGlyphs">SE 46TH CT</text><text class="st" x="0" y="6.5" text-anchor="middle" textLength="96" lengthAdjust="spacingAndGlyphs">SE 46TH CT</text></g>
<g transform="translate(143 430) rotate(-90)" font-size="18.0"><text class="sth" x="0" y="6.5" text-anchor="middle" textLength="95" lengthAdjust="spacingAndGlyphs">ACCESS RD</text><text class="st" x="0" y="6.5" text-anchor="middle" textLength="95" lengthAdjust="spacingAndGlyphs">ACCESS RD</text></g>
<g transform="translate(709.5 427.5) rotate(-52.6)" font-size="17.2"><text class="sth" x="0" y="6.2" text-anchor="middle" textLength="107" lengthAdjust="spacingAndGlyphs">SE 52ND AVE</text><text class="st" x="0" y="6.2" text-anchor="middle" textLength="107" lengthAdjust="spacingAndGlyphs">SE 52ND AVE</text></g>
<g transform="translate(945 83.5) rotate(-90)" font-size="18.0"><text class="sth" x="0" y="6.5" text-anchor="middle" textLength="105" lengthAdjust="spacingAndGlyphs">SE 54TH TER</text><text class="st" x="0" y="6.5" text-anchor="middle" textLength="105" lengthAdjust="spacingAndGlyphs">SE 54TH TER</text></g>
<g transform="translate(1090.8 100.6)" font-size="16.4"><text class="sth" x="0" y="5.9" text-anchor="middle" textLength="91.5" lengthAdjust="spacingAndGlyphs">SE 20TH ST</text><text class="st" x="0" y="5.9" text-anchor="middle" textLength="91.5" lengthAdjust="spacingAndGlyphs">SE 20TH ST</text></g>
<g transform="translate(1241.2 98.6) rotate(-1)" font-size="16.4"><text class="sth" x="0" y="5.9" text-anchor="middle" textLength="92.5" lengthAdjust="spacingAndGlyphs">SE 20TH ST</text><text class="st" x="0" y="5.9" text-anchor="middle" textLength="92.5" lengthAdjust="spacingAndGlyphs">SE 20TH ST</text></g>
<g transform="translate(1485.0 64.6) rotate(2)" font-size="16.4"><text class="sth" x="0" y="5.9" text-anchor="middle" textLength="98" lengthAdjust="spacingAndGlyphs">CHERRY RD</text><text class="st" x="0" y="5.9" text-anchor="middle" textLength="98" lengthAdjust="spacingAndGlyphs">CHERRY RD</text></g>
<g transform="translate(875.2 160.1)" font-size="16.4"><text class="sth" x="0" y="5.9" text-anchor="middle" textLength="92.5" lengthAdjust="spacingAndGlyphs">SE 21ST LN</text><text class="st" x="0" y="5.9" text-anchor="middle" textLength="92.5" lengthAdjust="spacingAndGlyphs">SE 21ST LN</text></g>
<g transform="translate(1090.8 160.6)" font-size="16.4"><text class="sth" x="0" y="5.9" text-anchor="middle" textLength="91.5" lengthAdjust="spacingAndGlyphs">SE 21ST LN</text><text class="st" x="0" y="5.9" text-anchor="middle" textLength="91.5" lengthAdjust="spacingAndGlyphs">SE 21ST LN</text></g>
<g transform="translate(1405.0 169.1)" font-size="16.4"><text class="sth" x="0" y="5.9" text-anchor="middle" textLength="83.0" lengthAdjust="spacingAndGlyphs">TEAK RUN</text><text class="st" x="0" y="5.9" text-anchor="middle" textLength="83.0" lengthAdjust="spacingAndGlyphs">TEAK RUN</text></g>
<g transform="translate(1334 204.5) rotate(-90)" font-size="18.0"><text class="sth" x="0" y="6.5" text-anchor="middle" textLength="103.5" lengthAdjust="spacingAndGlyphs">SE 58TH AVE</text><text class="st" x="0" y="6.5" text-anchor="middle" textLength="103.5" lengthAdjust="spacingAndGlyphs">SE 58TH AVE</text></g>
<g transform="translate(1074.0 221.6)" font-size="16.4"><text class="sth" x="0" y="5.9" text-anchor="middle" textLength="95.0" lengthAdjust="spacingAndGlyphs">SE 22ND ST</text><text class="st" x="0" y="5.9" text-anchor="middle" textLength="95.0" lengthAdjust="spacingAndGlyphs">SE 22ND ST</text></g>
<g transform="translate(1403.0 242.6)" font-size="16.4"><text class="sth" x="0" y="5.9" text-anchor="middle" textLength="99.0" lengthAdjust="spacingAndGlyphs">ALMOND RD</text><text class="st" x="0" y="5.9" text-anchor="middle" textLength="99.0" lengthAdjust="spacingAndGlyphs">ALMOND RD</text></g>
<g transform="translate(1535.5 244.1)" font-size="16.4"><text class="sth" x="0" y="5.9" text-anchor="middle" textLength="99" lengthAdjust="spacingAndGlyphs">ALMOND RD</text><text class="st" x="0" y="5.9" text-anchor="middle" textLength="99" lengthAdjust="spacingAndGlyphs">ALMOND RD</text></g>
<g transform="translate(869.5 293.1)" font-size="16.4"><text class="sth" x="0" y="5.9" text-anchor="middle" textLength="94.0" lengthAdjust="spacingAndGlyphs">SE 22ND PL</text><text class="st" x="0" y="5.9" text-anchor="middle" textLength="94.0" lengthAdjust="spacingAndGlyphs">SE 22ND PL</text></g>
<g transform="translate(1097.0 284.1)" font-size="16.4"><text class="sth" x="0" y="5.9" text-anchor="middle" textLength="94" lengthAdjust="spacingAndGlyphs">SE 22ND PL</text><text class="st" x="0" y="5.9" text-anchor="middle" textLength="94" lengthAdjust="spacingAndGlyphs">SE 22ND PL</text></g>
<g transform="translate(1242.0 284.1)" font-size="16.4"><text class="sth" x="0" y="5.9" text-anchor="middle" textLength="94" lengthAdjust="spacingAndGlyphs">SE 22ND PL</text><text class="st" x="0" y="5.9" text-anchor="middle" textLength="94" lengthAdjust="spacingAndGlyphs">SE 22ND PL</text></g>
<g transform="translate(1016.5 316) rotate(-90)" font-size="18.0"><text class="sth" x="0" y="6.5" text-anchor="middle" textLength="105" lengthAdjust="spacingAndGlyphs">SE 55TH TER</text><text class="st" x="0" y="6.5" text-anchor="middle" textLength="105" lengthAdjust="spacingAndGlyphs">SE 55TH TER</text></g>
<g transform="translate(1506.8 316.6)" font-size="16.4"><text class="sth" x="0" y="5.9" text-anchor="middle" textLength="148.5" lengthAdjust="spacingAndGlyphs">ALMOND PASS DR</text><text class="st" x="0" y="5.9" text-anchor="middle" textLength="148.5" lengthAdjust="spacingAndGlyphs">ALMOND PASS DR</text></g>
<g transform="translate(1083.0 344.1)" font-size="16.4"><text class="sth" x="0" y="5.9" text-anchor="middle" textLength="96" lengthAdjust="spacingAndGlyphs">SE 23RD LN</text><text class="st" x="0" y="5.9" text-anchor="middle" textLength="96" lengthAdjust="spacingAndGlyphs">SE 23RD LN</text></g>
<g transform="translate(861.2 370.6)" font-size="16.4"><text class="sth" x="0" y="5.9" text-anchor="middle" textLength="92.5" lengthAdjust="spacingAndGlyphs">SE 24TH ST</text><text class="st" x="0" y="5.9" text-anchor="middle" textLength="92.5" lengthAdjust="spacingAndGlyphs">SE 24TH ST</text></g>
<g transform="translate(1092.0 406.6)" font-size="16.4"><text class="sth" x="0" y="5.9" text-anchor="middle" textLength="94" lengthAdjust="spacingAndGlyphs">SE 24TH ST</text><text class="st" x="0" y="5.9" text-anchor="middle" textLength="94" lengthAdjust="spacingAndGlyphs">SE 24TH ST</text></g>
<g transform="translate(1228.2 405.1)" font-size="16.4"><text class="sth" x="0" y="5.9" text-anchor="middle" textLength="93.5" lengthAdjust="spacingAndGlyphs">SE 24TH ST</text><text class="st" x="0" y="5.9" text-anchor="middle" textLength="93.5" lengthAdjust="spacingAndGlyphs">SE 24TH ST</text></g>
<g transform="translate(544.2 447.6)" font-size="16.4"><text class="sth" x="0" y="5.9" text-anchor="middle" textLength="91.5" lengthAdjust="spacingAndGlyphs">SE 24TH PL</text><text class="st" x="0" y="5.9" text-anchor="middle" textLength="91.5" lengthAdjust="spacingAndGlyphs">SE 24TH PL</text></g>
<g transform="translate(205.0 456.6)" font-size="16.4"><text class="sth" x="0" y="5.9" text-anchor="middle" textLength="93.0" lengthAdjust="spacingAndGlyphs">SE 24TH ST</text><text class="st" x="0" y="5.9" text-anchor="middle" textLength="93.0" lengthAdjust="spacingAndGlyphs">SE 24TH ST</text></g>
<g transform="translate(446.5 486.5) rotate(-90)" font-size="18.0"><text class="sth" x="0" y="6.5" text-anchor="middle" textLength="105" lengthAdjust="spacingAndGlyphs">SE 50TH TER</text><text class="st" x="0" y="6.5" text-anchor="middle" textLength="105" lengthAdjust="spacingAndGlyphs">SE 50TH TER</text></g>
<g transform="translate(559.2 524.1)" font-size="16.4"><text class="sth" x="0" y="5.9" text-anchor="middle" textLength="93.5" lengthAdjust="spacingAndGlyphs">SE 25TH ST</text><text class="st" x="0" y="5.9" text-anchor="middle" textLength="93.5" lengthAdjust="spacingAndGlyphs">SE 25TH ST</text></g>
<g transform="translate(589.2 600.6)" font-size="16.4"><text class="sth" x="0" y="5.9" text-anchor="middle" textLength="93.5" lengthAdjust="spacingAndGlyphs">SE 26TH ST</text><text class="st" x="0" y="5.9" text-anchor="middle" textLength="93.5" lengthAdjust="spacingAndGlyphs">SE 26TH ST</text></g>
<g transform="translate(542.5 676.6)" font-size="16.4"><text class="sth" x="0" y="5.9" text-anchor="middle" textLength="93" lengthAdjust="spacingAndGlyphs">SE 27TH ST</text><text class="st" x="0" y="5.9" text-anchor="middle" textLength="93" lengthAdjust="spacingAndGlyphs">SE 27TH ST</text></g>
<g transform="translate(210.5 648.5) rotate(-5.7)" font-size="16.4"><text class="sth" x="0" y="5.9" text-anchor="middle" textLength="92" lengthAdjust="spacingAndGlyphs">SE 27TH ST</text><text class="st" x="0" y="5.9" text-anchor="middle" textLength="92" lengthAdjust="spacingAndGlyphs">SE 27TH ST</text></g>
<g transform="translate(56 537.5) rotate(75.6)" font-size="17.2"><text class="sth" x="0" y="6.2" text-anchor="middle" textLength="94" lengthAdjust="spacingAndGlyphs">SE 46TH CT</text><text class="st" x="0" y="6.2" text-anchor="middle" textLength="94" lengthAdjust="spacingAndGlyphs">SE 46TH CT</text></g>
<g transform="translate(93.5 626.6) rotate(61.5)" font-size="17.2"><text class="sth" x="0" y="6.2" text-anchor="middle" textLength="94" lengthAdjust="spacingAndGlyphs">SE 46TH CT</text><text class="st" x="0" y="6.2" text-anchor="middle" textLength="94" lengthAdjust="spacingAndGlyphs">SE 46TH CT</text></g>
<g transform="translate(265 728.5) rotate(-90)" font-size="18.0"><text class="sth" x="0" y="6.5" text-anchor="middle" textLength="102.5" lengthAdjust="spacingAndGlyphs">SE 48TH AVE</text><text class="st" x="0" y="6.5" text-anchor="middle" textLength="102.5" lengthAdjust="spacingAndGlyphs">SE 48TH AVE</text></g>
<g transform="translate(381 701) rotate(54.5)" font-size="17.2"><text class="sth" x="0" y="6.2" text-anchor="middle" textLength="107" lengthAdjust="spacingAndGlyphs">SE 49TH AVE</text><text class="st" x="0" y="6.2" text-anchor="middle" textLength="107" lengthAdjust="spacingAndGlyphs">SE 49TH AVE</text></g>
<g transform="translate(346.2 755.1)" font-size="16.4"><text class="sth" x="0" y="5.9" text-anchor="middle" textLength="92.5" lengthAdjust="spacingAndGlyphs">SE 28TH PL</text><text class="st" x="0" y="5.9" text-anchor="middle" textLength="92.5" lengthAdjust="spacingAndGlyphs">SE 28TH PL</text></g>
<g transform="translate(585.8 761.6)" font-size="16.4"><text class="sth" x="0" y="5.9" text-anchor="middle" textLength="93.5" lengthAdjust="spacingAndGlyphs">SE 28TH ST</text><text class="st" x="0" y="5.9" text-anchor="middle" textLength="93.5" lengthAdjust="spacingAndGlyphs">SE 28TH ST</text></g>
<g transform="translate(80 783.5) rotate(7.6)" font-size="16.4"><text class="sth" x="0" y="5.9" text-anchor="middle" textLength="93" lengthAdjust="spacingAndGlyphs">SE 28TH ST</text><text class="st" x="0" y="5.9" text-anchor="middle" textLength="93" lengthAdjust="spacingAndGlyphs">SE 28TH ST</text></g>
<g transform="translate(200 826) rotate(41.8)" font-size="17.2"><text class="sth" x="0" y="6.2" text-anchor="middle" textLength="93" lengthAdjust="spacingAndGlyphs">SE 28TH ST</text><text class="st" x="0" y="6.2" text-anchor="middle" textLength="93" lengthAdjust="spacingAndGlyphs">SE 28TH ST</text></g>
<g transform="translate(699 806) rotate(-90)" font-size="18.0"><text class="sth" x="0" y="6.5" text-anchor="middle" textLength="103.5" lengthAdjust="spacingAndGlyphs">SE 52ND AVE</text><text class="st" x="0" y="6.5" text-anchor="middle" textLength="103.5" lengthAdjust="spacingAndGlyphs">SE 52ND AVE</text></g>
<g transform="translate(578.8 849.1)" font-size="16.4"><text class="sth" x="0" y="5.9" text-anchor="middle" textLength="92.5" lengthAdjust="spacingAndGlyphs">SE 29TH ST</text><text class="st" x="0" y="5.9" text-anchor="middle" textLength="92.5" lengthAdjust="spacingAndGlyphs">SE 29TH ST</text></g>
<g transform="translate(1317.5 567.5) rotate(-90)" font-size="18.0"><text class="sth" x="0" y="6.5" text-anchor="middle" textLength="102.5" lengthAdjust="spacingAndGlyphs">SE 58TH AVE</text><text class="st" x="0" y="6.5" text-anchor="middle" textLength="102.5" lengthAdjust="spacingAndGlyphs">SE 58TH AVE</text></g>
<g transform="translate(1456 597.5) rotate(-90)" font-size="18.0"><text class="sth" x="0" y="6.5" text-anchor="middle" textLength="117" lengthAdjust="spacingAndGlyphs">BANYAN CRSE</text><text class="st" x="0" y="6.5" text-anchor="middle" textLength="117" lengthAdjust="spacingAndGlyphs">BANYAN CRSE</text></g>
<g transform="translate(1512.5 484) rotate(44.1)" font-size="17.2"><text class="sth" x="0" y="6.2" text-anchor="middle" textLength="118" lengthAdjust="spacingAndGlyphs">TEAK LOOP PL</text><text class="st" x="0" y="6.2" text-anchor="middle" textLength="118" lengthAdjust="spacingAndGlyphs">TEAK LOOP PL</text></g>
<g transform="translate(1524 587.5) rotate(34.3)" font-size="17.2"><text class="sth" x="0" y="6.2" text-anchor="middle" textLength="124" lengthAdjust="spacingAndGlyphs">TEAK LOOP LN</text><text class="st" x="0" y="6.2" text-anchor="middle" textLength="124" lengthAdjust="spacingAndGlyphs">TEAK LOOP LN</text></g>
<g transform="translate(860.2 761.6)" font-size="16.4"><text class="sth" x="0" y="5.9" text-anchor="middle" textLength="92.5" lengthAdjust="spacingAndGlyphs">SE 28TH ST</text><text class="st" x="0" y="5.9" text-anchor="middle" textLength="92.5" lengthAdjust="spacingAndGlyphs">SE 28TH ST</text></g>
<g transform="translate(1164.8 760.1)" font-size="16.4"><text class="sth" x="0" y="5.9" text-anchor="middle" textLength="92.5" lengthAdjust="spacingAndGlyphs">SE 28TH ST</text><text class="st" x="0" y="5.9" text-anchor="middle" textLength="92.5" lengthAdjust="spacingAndGlyphs">SE 28TH ST</text></g>
<g transform="translate(1383.0 760.1)" font-size="16.4"><text class="sth" x="0" y="5.9" text-anchor="middle" textLength="96" lengthAdjust="spacingAndGlyphs">BANYAN RD</text><text class="st" x="0" y="5.9" text-anchor="middle" textLength="96" lengthAdjust="spacingAndGlyphs">BANYAN RD</text></g>
<g transform="translate(1499 786.5) rotate(30)" font-size="17.2"><text class="sth" x="0" y="6.2" text-anchor="middle" textLength="96" lengthAdjust="spacingAndGlyphs">BANYAN RD</text><text class="st" x="0" y="6.2" text-anchor="middle" textLength="96" lengthAdjust="spacingAndGlyphs">BANYAN RD</text></g>
<g transform="translate(1556.5 760) rotate(-53)" font-size="17.2"><text class="sth" x="0" y="6.2" text-anchor="middle" textLength="75" lengthAdjust="spacingAndGlyphs">TEAK RD</text><text class="st" x="0" y="6.2" text-anchor="middle" textLength="75" lengthAdjust="spacingAndGlyphs">TEAK RD</text></g>
<g transform="translate(1332.5 828) rotate(-90)" font-size="18.0"><text class="sth" x="0" y="6.5" text-anchor="middle" textLength="101" lengthAdjust="spacingAndGlyphs">SE 58TH AVE</text><text class="st" x="0" y="6.5" text-anchor="middle" textLength="101" lengthAdjust="spacingAndGlyphs">SE 58TH AVE</text></g>
<g transform="translate(892.2 840.6)" font-size="16.4"><text class="sth" x="0" y="5.9" text-anchor="middle" textLength="92.5" lengthAdjust="spacingAndGlyphs">SE 28TH LN</text><text class="st" x="0" y="5.9" text-anchor="middle" textLength="92.5" lengthAdjust="spacingAndGlyphs">SE 28TH LN</text></g>
<path class="gl" d="M612.4 129V100.3H634V127H629"/>
<path class="gl" d="M407.5 305H440V331.5H407.5Z"/>
<path class="gl" d="M602.5 362V337.5H622.5V362"/>
<path class="gl" d="M512.5 410H540V377.5L520 385V400L512.5 402.5Z"/>
<path class="gl" d="M926 164.5H959V252.5L884 254V281"/>
<path class="gl" d="M904.5 171V281"/>
<path class="gl" d="M1137.5 64H1167.5V92.5H1137.5Z"/>
<path class="gl" d="M1242.5 130H1266.5V154H1242.5Z"/>
<path class="gl" d="M1195 191.5H1219V215H1195Z"/>
<path class="gl" d="M1426 195V203H1447.5V195"/>
<path class="gl" d="M1290.5 311H1310V337.5H1290.5Z"/>
<path class="gl" d="M1217.5 347.5H1242.5V371H1217.5Z"/>
<path class="gl" d="M889.5 380V408H911V375"/>
<path class="gl" d="M1403 387.5H1451V410H1403Z"/>
<path class="gl" d="M1340 405H1403V444H1340Z"/>
<path class="gl" d="M197.5 469H221V504H197.5Z"/>
<path class="gl" d="M135 504H159V525H135Z"/>
<path class="gl" d="M597.5 587V561H620V587"/>
<path class="gl" d="M407.5 600H440V623.5H407.5Z"/>
<path class="gl" d="M452.5 639H474V670H452.5Z"/>
<path class="gl" d="M29 703H65V727H29Z"/>
<path class="gl" d="M269.5 785H315V812L269.5 806Z"/>
<path class="gl" d="M889 713H912.5V749H889Z"/>
<path class="gl" d="M1017.5 713H1051V749H1017.5Z"/>
<path class="gl" d="M1342 722.5H1403"/>
<path class="gl" d="M834 886V872.5H856V886M856 872.5H880"/>
<path class="gl" d="M452.5 886V860Q452.5 857.5 455 857.5H475V886"/>
<path class="gl" d="M1441 864L1447 868"/>
<text class="prh" x="541.3" y="121.4" textLength="164.4" lengthAdjust="spacingAndGlyphs">$300,000 5/22 Imp -Q</text>
<text class="prh" x="341.5" y="324" textLength="164.5" lengthAdjust="spacingAndGlyphs">$305,000 5/22 Imp -Q</text>
<text class="prh" x="531.5" y="357.5" textLength="164.5" lengthAdjust="spacingAndGlyphs">$350,000 7/22 Imp -Q</text>
<text class="prh" x="446.5" y="401.5" textLength="164.5" lengthAdjust="spacingAndGlyphs">$310,000 6/22 Imp -Q</text>
<text class="prh" x="1070" y="83.5" textLength="165" lengthAdjust="spacingAndGlyphs">$291,000 6/22 Imp -Q</text>
<text class="prh" x="1171.5" y="148.5" textLength="165.0" lengthAdjust="spacingAndGlyphs">$295,000 6/22 Imp -Q</text>
<text class="prh" x="1355" y="195" textLength="165" lengthAdjust="spacingAndGlyphs">$250,000 6/22 Imp -Q</text>
<text class="prh" x="850" y="215" textLength="163.5" lengthAdjust="spacingAndGlyphs">$430,000 4/22 Imp -U</text>
<text class="prh" x="1126.5" y="209" textLength="163.5" lengthAdjust="spacingAndGlyphs">$175,000 5/22 Imp -U</text>
<text class="prh" x="812.5" y="275.5" textLength="164.0" lengthAdjust="spacingAndGlyphs">$190,000 6/22 Imp -Q</text>
<text class="prh" x="1224" y="331" textLength="154.5" lengthAdjust="spacingAndGlyphs">$39,830 3/22 Imp -U</text>
<text class="prh" x="1148.5" y="366.5" textLength="164.0" lengthAdjust="spacingAndGlyphs">$172,400 2/22 Imp -Q</text>
<text class="prh" x="815" y="399" textLength="164" lengthAdjust="spacingAndGlyphs">$190,000 1/22 Imp -Q</text>
<text class="prh" x="1343.5" y="406" textLength="165.0" lengthAdjust="spacingAndGlyphs">$286,400 6/22 Imp -Q</text>
<text class="prh" x="1290" y="427.5" textLength="164" lengthAdjust="spacingAndGlyphs">$960,000 4/22 Imp -Q</text>
<text class="prh" x="145" y="496.5" textLength="165" lengthAdjust="spacingAndGlyphs">$330,000 5/22 Imp -Q</text>
<text class="prh" x="75" y="521" textLength="155" lengthAdjust="spacingAndGlyphs">$30,000 3/22 Imp -Q</text>
<text class="prh" x="517.5" y="583.5" textLength="154.0" lengthAdjust="spacingAndGlyphs">$30,000 7/22 Imp -U</text>
<text class="prh" x="340" y="618.5" textLength="165" lengthAdjust="spacingAndGlyphs">$318,000 5/22 Imp -Q</text>
<text class="prh" x="381" y="661" textLength="164" lengthAdjust="spacingAndGlyphs">$245,000 1/22 Imp -Q</text>
<text class="prh" x="9" y="721.5" textLength="163.5" lengthAdjust="spacingAndGlyphs">$313,000 3/22 Imp -Q</text>
<text class="prh" x="210" y="804" textLength="164" lengthAdjust="spacingAndGlyphs">$417,500 3/22 Imp -Q</text>
<text class="prh" x="381" y="877.5" textLength="164" lengthAdjust="spacingAndGlyphs">$207,885 5/22 Imp -U</text>
<text class="prh" x="1290" y="718.5" textLength="164" lengthAdjust="spacingAndGlyphs">$333,000 5/22 Imp -Q</text>
<text class="prh" x="786" y="736" textLength="164" lengthAdjust="spacingAndGlyphs">$235,000 2/22 Imp -Q</text>
<text class="prh" x="952.5" y="736" textLength="164.0" lengthAdjust="spacingAndGlyphs">$284,900 4/22 Imp -Q</text>
<text class="prh" x="790" y="864.5" textLength="164.5" lengthAdjust="spacingAndGlyphs">$344,000 2/22 Imp -Q</text>
<text class="prh" x="1367.5" y="882.5" textLength="164.0" lengthAdjust="spacingAndGlyphs">$250,000 5/22 Imp -Q</text>
<text class="prh" x="1597" y="719">$2</text>
<path class="gl" opacity="0.45" d="M612.4 129V100.3H634V127H629"/>
<path class="gl" opacity="0.45" d="M407.5 305H440V331.5H407.5Z"/>
<path class="gl" opacity="0.45" d="M602.5 362V337.5H622.5V362"/>
<path class="gl" opacity="0.45" d="M512.5 410H540V377.5L520 385V400L512.5 402.5Z"/>
<path class="gl" opacity="0.45" d="M926 164.5H959V252.5L884 254V281"/>
<path class="gl" opacity="0.45" d="M904.5 171V281"/>
<path class="gl" opacity="0.45" d="M1137.5 64H1167.5V92.5H1137.5Z"/>
<path class="gl" opacity="0.45" d="M1242.5 130H1266.5V154H1242.5Z"/>
<path class="gl" opacity="0.45" d="M1195 191.5H1219V215H1195Z"/>
<path class="gl" opacity="0.45" d="M1426 195V203H1447.5V195"/>
<path class="gl" opacity="0.45" d="M1290.5 311H1310V337.5H1290.5Z"/>
<path class="gl" opacity="0.45" d="M1217.5 347.5H1242.5V371H1217.5Z"/>
<path class="gl" opacity="0.45" d="M889.5 380V408H911V375"/>
<path class="gl" opacity="0.45" d="M1403 387.5H1451V410H1403Z"/>
<path class="gl" opacity="0.45" d="M1340 405H1403V444H1340Z"/>
<path class="gl" opacity="0.45" d="M197.5 469H221V504H197.5Z"/>
<path class="gl" opacity="0.45" d="M135 504H159V525H135Z"/>
<path class="gl" opacity="0.45" d="M597.5 587V561H620V587"/>
<path class="gl" opacity="0.45" d="M407.5 600H440V623.5H407.5Z"/>
<path class="gl" opacity="0.45" d="M452.5 639H474V670H452.5Z"/>
<path class="gl" opacity="0.45" d="M29 703H65V727H29Z"/>
<path class="gl" opacity="0.45" d="M269.5 785H315V812L269.5 806Z"/>
<path class="gl" opacity="0.45" d="M889 713H912.5V749H889Z"/>
<path class="gl" opacity="0.45" d="M1017.5 713H1051V749H1017.5Z"/>
<path class="gl" opacity="0.45" d="M1342 722.5H1403"/>
<path class="gl" opacity="0.45" d="M834 886V872.5H856V886M856 872.5H880"/>
<path class="gl" opacity="0.45" d="M452.5 886V860Q452.5 857.5 455 857.5H475V886"/>
<path class="gl" opacity="0.45" d="M1441 864L1447 868"/>
<text class="pr" x="541.3" y="121.4" textLength="164.4" lengthAdjust="spacingAndGlyphs">$300,000 5/22 Imp -Q</text>
<text class="pr" x="341.5" y="324" textLength="164.5" lengthAdjust="spacingAndGlyphs">$305,000 5/22 Imp -Q</text>
<text class="pr" x="531.5" y="357.5" textLength="164.5" lengthAdjust="spacingAndGlyphs">$350,000 7/22 Imp -Q</text>
<text class="pr" x="446.5" y="401.5" textLength="164.5" lengthAdjust="spacingAndGlyphs">$310,000 6/22 Imp -Q</text>
<text class="pr" x="1070" y="83.5" textLength="165" lengthAdjust="spacingAndGlyphs">$291,000 6/22 Imp -Q</text>
<text class="pr" x="1171.5" y="148.5" textLength="165.0" lengthAdjust="spacingAndGlyphs">$295,000 6/22 Imp -Q</text>
<text class="pr" x="1355" y="195" textLength="165" lengthAdjust="spacingAndGlyphs">$250,000 6/22 Imp -Q</text>
<text class="pr" x="850" y="215" textLength="163.5" lengthAdjust="spacingAndGlyphs">$430,000 4/22 Imp -U</text>
<text class="pr" x="1126.5" y="209" textLength="163.5" lengthAdjust="spacingAndGlyphs">$175,000 5/22 Imp -U</text>
<text class="pr" x="812.5" y="275.5" textLength="164.0" lengthAdjust="spacingAndGlyphs">$190,000 6/22 Imp -Q</text>
<text class="pr" x="1224" y="331" textLength="154.5" lengthAdjust="spacingAndGlyphs">$39,830 3/22 Imp -U</text>
<text class="pr" x="1148.5" y="366.5" textLength="164.0" lengthAdjust="spacingAndGlyphs">$172,400 2/22 Imp -Q</text>
<text class="pr" x="815" y="399" textLength="164" lengthAdjust="spacingAndGlyphs">$190,000 1/22 Imp -Q</text>
<text class="pr" x="1343.5" y="406" textLength="165.0" lengthAdjust="spacingAndGlyphs">$286,400 6/22 Imp -Q</text>
<text class="pr" x="1290" y="427.5" textLength="164" lengthAdjust="spacingAndGlyphs">$960,000 4/22 Imp -Q</text>
<text class="pr" x="145" y="496.5" textLength="165" lengthAdjust="spacingAndGlyphs">$330,000 5/22 Imp -Q</text>
<text class="pr" x="75" y="521" textLength="155" lengthAdjust="spacingAndGlyphs">$30,000 3/22 Imp -Q</text>
<text class="pr" x="517.5" y="583.5" textLength="154.0" lengthAdjust="spacingAndGlyphs">$30,000 7/22 Imp -U</text>
<text class="pr" x="340" y="618.5" textLength="165" lengthAdjust="spacingAndGlyphs">$318,000 5/22 Imp -Q</text>
<text class="pr" x="381" y="661" textLength="164" lengthAdjust="spacingAndGlyphs">$245,000 1/22 Imp -Q</text>
<text class="pr" x="9" y="721.5" textLength="163.5" lengthAdjust="spacingAndGlyphs">$313,000 3/22 Imp -Q</text>
<text class="pr" x="210" y="804" textLength="164" lengthAdjust="spacingAndGlyphs">$417,500 3/22 Imp -Q</text>
<text class="pr" x="381" y="877.5" textLength="164" lengthAdjust="spacingAndGlyphs">$207,885 5/22 Imp -U</text>
<text class="pr" x="1290" y="718.5" textLength="164" lengthAdjust="spacingAndGlyphs">$333,000 5/22 Imp -Q</text>
<text class="pr" x="786" y="736" textLength="164" lengthAdjust="spacingAndGlyphs">$235,000 2/22 Imp -Q</text>
<text class="pr" x="952.5" y="736" textLength="164.0" lengthAdjust="spacingAndGlyphs">$284,900 4/22 Imp -Q</text>
<text class="pr" x="790" y="864.5" textLength="164.5" lengthAdjust="spacingAndGlyphs">$344,000 2/22 Imp -Q</text>
<text class="pr" x="1367.5" y="882.5" textLength="164.0" lengthAdjust="spacingAndGlyphs">$250,000 5/22 Imp -Q</text>
<text class="pr" x="1597" y="719">$2</text>
<text x="1513" y="550" font-size="19" font-weight="bold" fill="#e6e3e3" opacity="0.7" textLength="84" lengthAdjust="spacingAndGlyphs">StellarMLS</text>
</g>
<rect x="7.4" y="8.3" width="1591.3" height="877.4" fill="none" stroke="#111" stroke-width="2.3"/>
<rect x="7.4" y="985.6" width="1591.3" height="120" fill="none" stroke="#111" stroke-width="2.3"/>
<path d="M34.2 942.5H320.6" stroke="#222" stroke-width="1.3" fill="none"/>
<path d="M34.25 934.3V943" stroke="#222" stroke-width="1.3" fill="none"/>
<path d="M70.03 937V943" stroke="#222" stroke-width="1.3" fill="none"/>
<path d="M105.81 937V943" stroke="#222" stroke-width="1.3" fill="none"/>
<path d="M141.59 937V943" stroke="#222" stroke-width="1.3" fill="none"/>
<path d="M177.37 934.3V943" stroke="#222" stroke-width="1.3" fill="none"/>
<path d="M213.15 937V943" stroke="#222" stroke-width="1.3" fill="none"/>
<path d="M248.93 937V943" stroke="#222" stroke-width="1.3" fill="none"/>
<path d="M284.71 937V943" stroke="#222" stroke-width="1.3" fill="none"/>
<path d="M320.49 934.3V943" stroke="#222" stroke-width="1.3" fill="none"/>
<path d="M34.25 942V949.5" stroke="#222" stroke-width="1.3" fill="none"/>
<path d="M68.94 942V946.3" stroke="#222" stroke-width="1.3" fill="none"/>
<path d="M103.63 942V946.3" stroke="#222" stroke-width="1.3" fill="none"/>
<path d="M138.32 942V946.3" stroke="#222" stroke-width="1.3" fill="none"/>
<path d="M173.01 942V949.5" stroke="#222" stroke-width="1.3" fill="none"/>
<path d="M207.70 942V946.3" stroke="#222" stroke-width="1.3" fill="none"/>
<path d="M242.39 942V946.3" stroke="#222" stroke-width="1.3" fill="none"/>
<path d="M277.08 942V946.3" stroke="#222" stroke-width="1.3" fill="none"/>
<path d="M311.77 942V949.5" stroke="#222" stroke-width="1.3" fill="none"/>
<text x="184.3" y="910" font-size="16.4" text-anchor="middle" fill="#222" textLength="58.4" lengthAdjust="spacingAndGlyphs">1:9,028</text>
<text x="34" y="927" font-size="13.6" text-anchor="middle" fill="#222">0</text>
<text x="105.75" y="927" font-size="13.6" text-anchor="middle" fill="#222">355</text>
<text x="177.3" y="927" font-size="13.6" text-anchor="middle" fill="#222">710</text>
<text x="303.2" y="927" font-size="13.6" text-anchor="start" fill="#222">1,420 ft</text>
<text x="34" y="967" font-size="13.6" text-anchor="middle" fill="#222">0</text>
<text x="103.5" y="967" font-size="13.6" text-anchor="middle" fill="#222">105</text>
<text x="173" y="967" font-size="13.6" text-anchor="middle" fill="#222">210</text>
<text x="300" y="967" font-size="13.6" text-anchor="start" fill="#222">420 m</text>
<text x="1292.4" y="914" font-size="22.2" text-anchor="start" fill="#222" textLength="229.6" lengthAdjust="spacingAndGlyphs">Print Date: 08/02/2022</text>
<text x="1292.4" y="931.6" font-size="12" text-anchor="start" fill="#222" textLength="102" lengthAdjust="spacingAndGlyphs">Marion County, FL</text>
<text x="1292.4" y="946" font-size="12" text-anchor="start" fill="#222" textLength="36.6" lengthAdjust="spacingAndGlyphs">Marion</text>
<text x="1344.4" y="946" font-size="12" text-anchor="start" fill="#222" textLength="41.2" lengthAdjust="spacingAndGlyphs">County,</text>
<text x="1401" y="946" font-size="12" text-anchor="start" fill="#222" textLength="17.4" lengthAdjust="spacingAndGlyphs">FL:</text>
<text x="1433" y="946" font-size="12" text-anchor="start" fill="#222" textLength="38" lengthAdjust="spacingAndGlyphs">Marion</text>
<text x="1486" y="946" font-size="12" text-anchor="start" fill="#222" textLength="39" lengthAdjust="spacingAndGlyphs">County</text>
<text x="1539.6" y="946" font-size="12" text-anchor="start" fill="#222" textLength="47.4" lengthAdjust="spacingAndGlyphs">Property</text>
<text x="1292.4" y="960" font-size="12" text-anchor="start" fill="#222" textLength="52" lengthAdjust="spacingAndGlyphs">Appraiser</text>
</svg>
<div class="disc" style="top:994.6px;">DISCLAIMER: This is a work in progress. This application was compiled by the Marion County Property Appraiser's Office soley for the governmental</div>
<div class="disc" style="top:1021.0px;">purpose of property assessment. These are NOT surveys. Our goal is to provide the most accurate data available, however, no warranties, expressed or</div>
<div class="disc" style="top:1047.4px;text-align:left;text-align-last:left;">implied are provided with this data, its use, or interpretation. All information subject to change without notice. Use at your own risk.</div>
</body></html>
